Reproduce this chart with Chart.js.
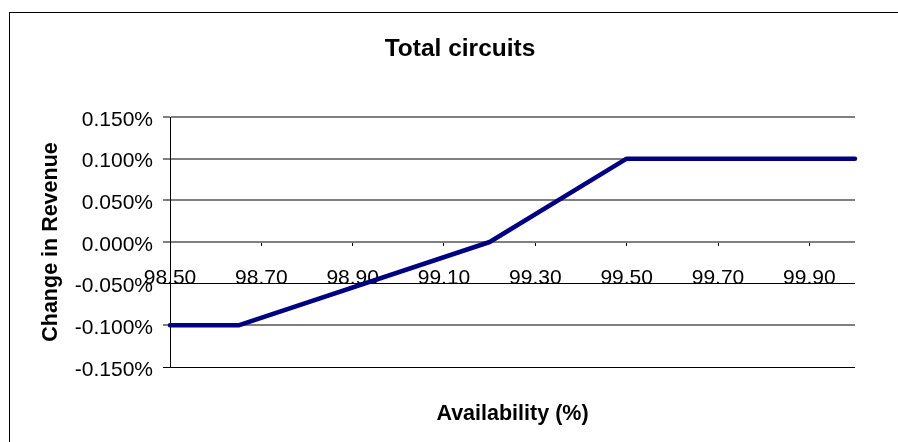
<!DOCTYPE html>
<html>
<head>
<meta charset="utf-8">
<title>Total circuits</title>
<script src="https://cdn.jsdelivr.net/npm/chart.js@4.4.1/dist/chart.umd.min.js"></script>
<style>
  html, body { margin: 0; padding: 0; background: #ffffff; }
  canvas { display: block; }
</style>
</head>
<body>
<canvas id="chart" width="898" height="442"></canvas>
<script>
// Availability breakpoints (%) and the change in revenue (%) at each one
const availability = [98.50, 98.65, 99.20, 99.50, 100.00];
const revenueChange = [-0.100, -0.100, 0.000, 0.100, 0.100];

// Axis tick values
const xTickValues = [98.50, 98.70, 98.90, 99.10, 99.30, 99.50, 99.70, 99.90];
const yTickValues = [-0.150, -0.100, -0.050, 0.000, 0.050, 0.100, 0.150];

const FONT = '"Liberation Sans", Arial, sans-serif';

// Outer chart frame; it runs past the right and bottom edges of the canvas
const FRAME = { left: 9, top: 12, right: 911, bottom: 460 };

const framePlugin = {
  id: 'frame',
  afterLayout(chart) {
    // centre the chart title within the frame
    if (chart.titleBlock) {
      chart.titleBlock.left = FRAME.left;
      chart.titleBlock.right = FRAME.right;
    }
  },
  afterDraw(chart) {
    const ctx = chart.ctx;
    ctx.save();
    ctx.strokeStyle = '#000000';
    ctx.lineWidth = 1;
    ctx.strokeRect(FRAME.left + 0.5, FRAME.top + 0.5,
                   FRAME.right - FRAME.left, FRAME.bottom - FRAME.top);
    ctx.restore();
  }
};

new Chart(document.getElementById('chart'), {
  type: 'line',
  data: {
    datasets: [{
      data: availability.map((a, i) => ({ x: a, y: revenueChange[i] })),
      borderColor: '#000080',
      borderWidth: 4.5,
      borderCapStyle: 'round',
      borderJoinStyle: 'round',
      pointRadius: 0,
      tension: 0,
      clip: false
    }]
  },
  options: {
    responsive: false,
    animation: false,
    layout: { padding: { left: 0, right: 43, top: 0, bottom: 0 } },
    plugins: {
      legend: { display: false },
      tooltip: { enabled: false },
      title: {
        display: true,
        text: 'Total circuits',
        color: '#000000',
        font: { family: FONT, size: 24.5, weight: 'bold' },
        padding: { top: 34.3, bottom: 53.3 }
      },
      subtitle: {
        display: true,
        position: 'bottom',
        fullSize: false,
        text: 'Availability (%)',
        color: '#000000',
        font: { family: FONT, size: 21.5, weight: 'bold' },
        padding: { top: 34.6, bottom: 14.6 }
      }
    },
    scales: {
      x: {
        type: 'linear',
        axis: 'x',
        position: { y: 0 },
        min: 98.5,
        max: 100.0,
        afterBuildTicks(scale) {
          scale.ticks = xTickValues.map(v => ({ value: v }));
        },
        grid: {
          drawOnChartArea: false,
          drawTicks: true,
          tickLength: 4,
          tickColor: '#000000'
        },
        border: { display: false },
        ticks: {
          color: '#000000',
          font: { family: FONT, size: 21 },
          padding: 20,
          maxRotation: 0,
          autoSkip: false,
          callback: v => Number(v).toFixed(2)
        }
      },
      y: {
        type: 'linear',
        position: 'left',
        min: -0.15,
        max: 0.15,
        afterBuildTicks(scale) {
          scale.ticks = yTickValues.map(v => ({ value: v }));
        },
        afterFit(scale) {
          scale.width = 170;
        },
        grid: {
          color: ctx => {
            const v = ctx.tick ? Math.round(ctx.tick.value * 1000) : 1;
            return (v === -50 || v === -150) ? '#000000' : '#808080';
          },
          lineWidth: ctx => {
            const v = ctx.tick ? Math.round(ctx.tick.value * 1000) : 1;
            return (v === -50 || v === -150) ? 1 : 2;
          },
          tickLength: 7
        },
        border: { display: true, color: '#000000', width: 1 },
        ticks: {
          color: '#000000',
          font: { family: FONT, size: 21 },
          padding: 10,
          labelOffset: 3,
          autoSkip: false,
          callback: v => {
            const n = Math.abs(v) < 1e-9 ? 0 : v;
            return n.toFixed(3) + '%';
          }
        },
        title: {
          display: true,
          text: 'Change in Revenue',
          color: '#000000',
          font: { family: FONT, size: 21.5, weight: 'bold' },
          padding: { top: 38.6, bottom: 0 }
        }
      }
    }
  },
  plugins: [framePlugin]
});
</script>
</body>
</html>
